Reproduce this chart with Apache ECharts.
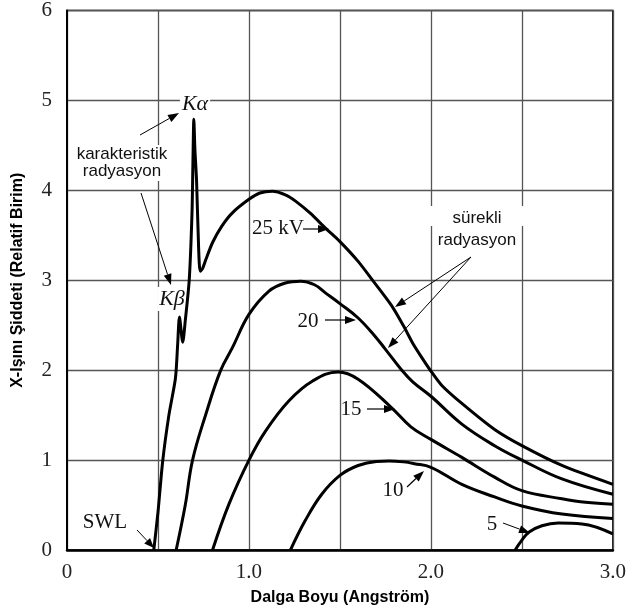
<!DOCTYPE html>
<html>
<head>
<meta charset="utf-8">
<script src="https://cdn.jsdelivr.net/npm/echarts@6/dist/echarts.min.js"></script>
<style>
html, body { margin: 0; padding: 0; background: #fff; }
#chart { width: 629px; height: 611px; }
</style>
</head>
<body>
<div id="chart"></div>
<script>
// wavelength (Angstrom) and intensity (relative units) for each tube voltage
var wl25 = [0.477, 0.50, 0.526, 0.56, 0.596, 0.608, 0.618, 0.636, 0.65, 0.672, 0.687, 0.692, 0.697, 0.703, 0.712, 0.723, 0.732, 0.745, 0.763, 0.80, 0.85, 0.909, 1.0, 1.06, 1.128, 1.2, 1.256, 1.34, 1.42, 1.5, 1.6, 1.683, 1.783, 1.85, 1.90, 1.95, 2.0, 2.06, 2.17, 2.35, 2.5, 2.72, 3.0];
var int25 = [0, 0.42, 0.99, 1.5, 1.91, 2.28, 2.59, 2.31, 2.55, 3.01, 3.75, 4.30, 4.79, 4.45, 4.11, 3.38, 3.10, 3.13, 3.23, 3.42, 3.60, 3.75, 3.90, 3.97, 3.99, 3.95, 3.88, 3.74, 3.58, 3.43, 3.21, 2.99, 2.72, 2.49, 2.30, 2.14, 1.99, 1.83, 1.63, 1.34, 1.16, 0.94, 0.73];

var wl20 = [0.60, 0.65, 0.69, 0.763, 0.845, 0.909, 1.0, 1.11, 1.2, 1.284, 1.36, 1.42, 1.5, 1.6, 1.696, 1.747, 1.84, 1.90, 2.0, 2.17, 2.35, 2.5, 2.72, 3.0];
var int20 = [0, 0.50, 1.0, 1.51, 2.0, 2.25, 2.62, 2.88, 2.97, 2.99, 2.95, 2.86, 2.74, 2.58, 2.37, 2.24, 2.0, 1.87, 1.71, 1.40, 1.16, 1.0, 0.79, 0.62];

var wl15 = [0.80, 0.89, 1.0, 1.09, 1.22, 1.35, 1.49, 1.60, 1.78, 1.89, 2.0, 2.17, 2.35, 2.5, 2.72, 2.85, 3.0];
var int15 = [0, 0.51, 1.0, 1.32, 1.66, 1.88, 1.98, 1.90, 1.59, 1.37, 1.23, 1.03, 0.81, 0.66, 0.57, 0.53, 0.51];

var wl10 = [1.228, 1.31, 1.40, 1.5, 1.6, 1.7, 1.77, 1.85, 1.91, 2.0, 2.17, 2.35, 2.5, 2.72, 3.0];
var int10 = [0, 0.33, 0.62, 0.83, 0.94, 0.985, 0.99, 0.98, 0.96, 0.92, 0.73, 0.59, 0.49, 0.40, 0.35];

var wl5 = [2.463, 2.5, 2.54, 2.61, 2.70, 2.83, 3.0];
var int5 = [0, 0.11, 0.20, 0.27, 0.30, 0.29, 0.18];

function pairs(xs, ys) {
    var out = [];
    for (var i = 0; i < xs.length; i++) {
        out.push([xs[i], ys[i]]);
    }
    return out;
}

function curve(name, xs, ys, smooth) {
    return {
        name: name,
        type: 'line',
        data: pairs(xs, ys),
        symbol: 'none',
        smooth: smooth,
        lineStyle: { color: '#000', width: 3, join: 'round' },
        z: 3
    };
}

// arrow = thin line + filled head, in pixels
function arrow(x1, y1, x2, y2, w, len, half) {
    var a = Math.atan2(y2 - y1, x2 - x1);
    var bx = x2 - len * Math.cos(a), by = y2 - len * Math.sin(a);
    var px = -Math.sin(a) * half, py = Math.cos(a) * half;
    return [
        {
            type: 'line', z: 4, silent: true,
            shape: { x1: x1, y1: y1, x2: bx, y2: by },
            style: { stroke: '#000', lineWidth: w }
        },
        {
            type: 'polygon', z: 4, silent: true,
            shape: { points: [[x2, y2], [bx + px, by + py], [bx - px, by - py]] },
            style: { fill: '#000' }
        }
    ];
}

function label(text, x, y, font, bg) {
    return {
        type: 'text', z: 1, silent: true,
        x: x, y: y,
        style: {
            text: text,
            font: font,
            fill: '#111',
            align: 'center',
            verticalAlign: 'middle',
            backgroundColor: bg ? '#fff' : null,
            padding: bg ? [1, 2, 1, 2] : 0
        }
    };
}

var serif = '21px "Liberation Serif", "Times New Roman", serif';
var serifIt = 'italic 22px "Liberation Serif", "Times New Roman", serif';
var sans = '17px "Liberation Sans", Arial, sans-serif';

var myChart = echarts.init(document.getElementById('chart'), null, { renderer: 'canvas' });

var graphics = [];
graphics.push({
    type: 'rect', z: 1, silent: true,
    shape: { x: 427, y: 206, width: 100, height: 20 },
    style: { fill: '#fff' }
});
graphics.push(label('Kα', 195, 104, serifIt, true));
graphics.push(label('karakteristik\nradyasyon', 122, 163, sans, true));
graphics.push(label('Kβ', 172, 299, serifIt, true));
graphics.push(label('25 kV', 278, 228, serif, false));
graphics.push(label('20', 308, 321, serif, false));
graphics.push(label('15', 351, 409, serif, false));
graphics.push(label('10', 393, 490, serif, false));
graphics.push(label('5', 492, 524, serif, false));
graphics.push(label('SWL', 105, 522, serif, false));
graphics.push(label('sürekli', 477, 218, sans, false));
graphics.push(label('radyasyon', 477, 240, sans, false));

graphics = graphics
    .concat(arrow(140, 135, 179, 113, 1, 11, 4))
    .concat(arrow(141, 193, 171, 285, 1, 11, 4))
    .concat(arrow(303, 229, 329, 229, 1.2, 11, 4))
    .concat(arrow(325, 320, 356, 320, 1.2, 11, 4))
    .concat(arrow(367, 409, 395, 409, 1.2, 11, 4))
    .concat(arrow(407, 487, 424, 471, 1.2, 11, 4))
    .concat(arrow(503, 523, 530, 533, 1, 11, 4))
    .concat(arrow(137, 530, 154, 548, 1, 10, 4))
    .concat(arrow(471, 257, 395, 307, 1, 11, 4))
    .concat(arrow(471, 257, 388, 348, 1, 11, 4));

var option = {
    animation: false,
    backgroundColor: '#fff',
    grid: {
        left: 67,
        right: 14,
        top: 9,
        bottom: 58,
        show: true,
        borderColor: '#000',
        borderWidth: 1.5,
        backgroundColor: 'transparent'
    },
    xAxis: {
        type: 'value',
        min: 0,
        max: 3,
        interval: 0.5,
        name: 'Dalga Boyu (Angström)',
        nameLocation: 'middle',
        nameGap: 40,
        nameTextStyle: {
            fontFamily: '"Liberation Sans", Arial, sans-serif',
            fontWeight: 'bold',
            fontSize: 16,
            color: '#000'
        },
        axisLine: { lineStyle: { color: '#000', width: 2.5 } },
        axisTick: { show: false },
        axisLabel: {
            margin: 12,
            fontFamily: '"Liberation Serif", "Times New Roman", serif',
            fontSize: 21,
            color: '#222',
            formatter: function (value) {
                if (value === 0) return '0';
                if (value % 1 === 0) return value.toFixed(1);
                return '';
            }
        },
        splitLine: { show: true, lineStyle: { color: '#555', width: 1.3 } }
    },
    yAxis: {
        type: 'value',
        min: 0,
        max: 6,
        interval: 1,
        name: 'X-Işını Şiddeti (Relatif Birim)',
        nameLocation: 'middle',
        nameGap: 41,
        nameTextStyle: {
            fontFamily: '"Liberation Sans", Arial, sans-serif',
            fontWeight: 'bold',
            fontSize: 16,
            color: '#000'
        },
        axisLine: { show: true, lineStyle: { color: '#000', width: 2 } },
        axisTick: { show: false },
        axisLabel: {
            margin: 15,
            fontFamily: '"Liberation Serif", "Times New Roman", serif',
            fontSize: 21,
            color: '#222'
        },
        splitLine: { show: true, lineStyle: { color: '#555', width: 1.3 } }
    },
    series: [
        curve('25 kV', wl25, int25, 0.25),
        curve('20 kV', wl20, int20, 0.4),
        curve('15 kV', wl15, int15, 0.4),
        curve('10 kV', wl10, int10, 0.4),
        curve('5 kV', wl5, int5, 0.4)
    ],
    graphic: graphics
};

myChart.setOption(option);
</script>
</body>
</html>
